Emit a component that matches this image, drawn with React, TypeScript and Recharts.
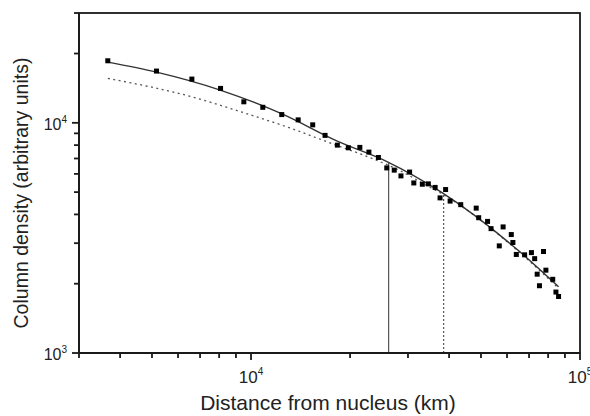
import React from 'react';
import {
  ComposedChart,
  Line,
  Scatter,
  XAxis,
  YAxis,
  ReferenceLine,
} from 'recharts';

if (typeof document !== 'undefined') document.body.style.margin = '0';

// measured column density vs. distance from nucleus
const pointDist = [
  3670, 5160, 6610, 8080, 9510, 10860, 12400, 13910, 15400, 16790, 18300, 19760, 21420, 22820,
  24390, 25860, 27250, 28560, 30340, 31250, 33170, 34590, 36280, 37550, 39040, 40290, 43400,
  48360, 49210, 52360, 53660, 56840, 58380, 61820, 62520, 64030, 67870, 71180, 72810, 74100,
  75300, 77450, 78760, 82630, 84500, 86070,
];
const pointDensity = [
  18600, 16780, 15490, 14110, 12340, 11680, 10860, 10300, 9800, 8820, 8000, 7790, 7820, 7460,
  7070, 6370, 6230, 5880, 6110, 5480, 5410, 5430, 5240, 4720, 5130, 4570, 4410, 4260, 3870,
  3730, 3470, 2920, 3530, 3270, 3020, 2680, 2670, 2730, 2570, 2200, 1960, 2760, 2290, 2090,
  1840, 1760,
];

// model fit (solid)
const fitDist = [3670, 5160, 8060, 12370, 18290, 25980, 37760, 64710, 86070];
const fitDensity = [18360, 16610, 13880, 10960, 8330, 6770, 5010, 2800, 1940];

// second model (dotted)
const altDist = [3670, 6610, 9490, 13180, 18290, 22780, 28530, 34460, 37760, 64710, 86070];
const altDensity = [15600, 12970, 11070, 9480, 7960, 7100, 6170, 5310, 4950, 2780, 1910];

// vertical markers
const solidMarker = { dist: 26200, density: 6750 };
const dottedMarker = { dist: 38500, density: 4900 };

const xTicks = [
  3000, 4000, 5000, 6000, 7000, 8000, 9000, 10000, 20000, 30000, 40000, 50000, 60000, 70000,
  80000, 90000, 100000,
];
const yTicks = [1000, 2000, 3000, 4000, 5000, 6000, 7000, 8000, 9000, 10000, 20000, 30000];

const X_DOMAIN = [3000, 100000];
const Y_DOMAIN = [1000, 30000];

const toRows = (xs: number[], ys: number[]) => xs.map((dist, i) => ({ dist, density: ys[i] }));
const points = toRows(pointDist, pointDensity);
const fit = toRows(fitDist, fitDensity);
const alt = toRows(altDist, altDensity);

const FONT = '"Liberation Sans", Arial, sans-serif';
const INK = '#333';
const FRAME = '#1a1a1a';

// chart box
const W = 590;
const H = 416;
const M = { top: 13, right: 10, left: 0, bottom: 0 };
const Y_AXIS_W = 79;
const X_AXIS_H = 63;

const isPow10 = (v: number) => Math.abs(Math.log10(v) - Math.round(Math.log10(v))) < 1e-9;

// tick marks as thin rects, labels only on the decades
const XTick = ({ x, y, payload }: any) => {
  const v = payload.value as number;
  const major = isPow10(v);
  return (
    <g>
      <rect x={x - 0.9} y={y} width={1.8} height={major ? 7 : 5} fill={FRAME} />
      {major && (
        <text x={x} y={y + 30} textAnchor="middle" fontFamily={FONT} fontSize={17} fill="#222">
          <tspan>10</tspan>
          <tspan dy={-8} fontSize={10}>
            {Math.round(Math.log10(v))}
          </tspan>
        </text>
      )}
    </g>
  );
};

const YTick = ({ x, y, payload }: any) => {
  const v = payload.value as number;
  const major = isPow10(v);
  const len = major ? 7 : 5;
  return (
    <g>
      <rect x={x - len} y={y - 0.9} width={len} height={1.8} fill={FRAME} />
      {major && (
        <text x={x - 12} y={y + 7} textAnchor="end" fontFamily={FONT} fontSize={16} fill="#222">
          <tspan>10</tspan>
          <tspan dy={-7} fontSize={10}>
            {Math.round(Math.log10(v))}
          </tspan>
        </text>
      )}
    </g>
  );
};

const Square = (props: any) => {
  const { cx, cy } = props;
  if (cx == null || cy == null) return null;
  return <rect x={cx - 2.5} y={cy - 2.5} width={5} height={5} fill="#000" />;
};

export default function App() {
  const plotW = W - M.left - M.right - Y_AXIS_W;
  const plotH = H - M.top - M.bottom - X_AXIS_H;
  return (
    <div style={{ width: W, height: H, background: '#fff' }}>
      <ComposedChart width={W} height={H} margin={M}>
        <XAxis
          dataKey="dist"
          type="number"
          scale="log"
          domain={X_DOMAIN}
          allowDataOverflow
          ticks={xTicks}
          interval={0}
          tick={<XTick />}
          tickLine={false}
          tickSize={0}
          tickMargin={0}
          height={X_AXIS_H}
          axisLine={{ stroke: FRAME, strokeWidth: 1.8 }}
        />
        <YAxis
          dataKey="density"
          type="number"
          scale="log"
          domain={Y_DOMAIN}
          allowDataOverflow
          ticks={yTicks}
          interval={0}
          tick={<YTick />}
          tickLine={false}
          tickSize={0}
          tickMargin={0}
          width={Y_AXIS_W}
          axisLine={{ stroke: FRAME, strokeWidth: 1.8 }}
        />
        {/* plot frame */}
        <rect
          x={M.left + Y_AXIS_W}
          y={M.top}
          width={plotW}
          height={plotH}
          fill="none"
          stroke={FRAME}
          strokeWidth={1.8}
        />
        <ReferenceLine
          segment={[
            { x: solidMarker.dist, y: Y_DOMAIN[0] },
            { x: solidMarker.dist, y: solidMarker.density },
          ]}
          stroke="#555"
          strokeWidth={1.2}
        />
        <ReferenceLine
          segment={[
            { x: dottedMarker.dist, y: Y_DOMAIN[0] },
            { x: dottedMarker.dist, y: dottedMarker.density },
          ]}
          stroke="#555"
          strokeWidth={1.2}
          strokeDasharray="2 2"
        />
        <Line
          data={alt}
          dataKey="density"
          type="monotone"
          stroke="#555"
          strokeWidth={1.3}
          strokeDasharray="2 3.5"
          dot={false}
          activeDot={false}
          isAnimationActive={false}
        />
        <Line
          data={fit}
          dataKey="density"
          type="monotone"
          stroke={INK}
          strokeWidth={1.4}
          dot={false}
          activeDot={false}
          isAnimationActive={false}
        />
        <Scatter data={points} dataKey="density" shape={<Square />} isAnimationActive={false} />
        <text x={328} y={410} textAnchor="middle" fontFamily={FONT} fontSize={21} fill="#222">
          Distance from nucleus (km)
        </text>
        <text
          x={28}
          y={193}
          transform="rotate(-90 28 193)"
          textAnchor="middle"
          fontFamily={FONT}
          fontSize={19.5}
          fill="#222"
        >
          Column density (arbitrary units)
        </text>
      </ComposedChart>
    </div>
  );
}
